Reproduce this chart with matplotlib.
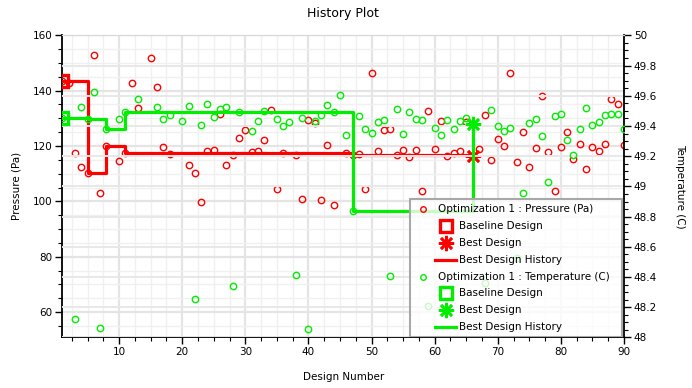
import numpy as np
import matplotlib
matplotlib.use("Agg")
from matplotlib import pyplot as plt
from matplotlib.lines import Line2D
from matplotlib.patches import Rectangle
from matplotlib.ticker import MultipleLocator, FormatStrFormatter

nan = np.nan

# design numbers 1..90
design = np.arange(1, 91)

# pressure (Pa), left axis
pressure = [
    143.5, 142.9, 117.6, 112.5, 110.2, 153.0, 103.1, 120.1, nan, 114.7,
    117.5, 142.9, 133.6, nan, 151.9, 141.4, 119.8, 117.2, nan, nan,
    113.3, 110.4, 99.9, 118.1, 118.4, 131.6, 113.2, 116.6, 123.0, 125.9,
    117.7, 118.1, 122.0, 133.1, 104.6, 117.3, nan, 116.6, 100.9, 129.5,
    128.4, 100.6, 120.5, 98.8, nan, 117.6, 116.9, 117.2, 104.6, 146.5,
    118.1, 125.9, 126.3, 116.8, 118.5, 116.2, 118.5, 103.9, 132.8, 119.0,
    129.1, 116.4, 117.4, 118.1, 128.7, 116.4, 118.8, 131.2, 115.0, 122.6,
    120.1, 146.5, 114.3, 125.1, 112.5, 119.4, 138.2, 117.9, 103.8, 119.7,
    125.1, 115.4, 120.8, 111.8, 119.7, 118.3, 120.8, 137.1, 135.3, 120.5,
]

# temperature (C), right axis
temperature = [
    49.455, nan, 48.121, 49.527, 49.443, 49.626, 48.064, 49.378, nan, 49.447,
    49.493, nan, 49.580, nan, nan, 49.527, 49.447, 49.471, nan, 49.434,
    49.533, 48.254, 49.407, 49.547, 49.458, 49.509, 49.527, 48.340, 49.493, nan,
    49.367, 49.434, 49.500, nan, 49.447, 49.399, 49.427, 48.413, 49.454, 48.055,
    49.436, 49.473, 49.540, 49.493, 49.606, 49.341, 48.836, 49.464, 49.380, 49.354,
    49.427, 49.440, 48.410, 49.513, 49.348, 49.493, 49.447, 49.440, 48.210, 49.387,
    49.341, 49.440, 49.380, 49.434, 49.454, 49.414, nan, 48.363, 49.507, 49.401,
    49.367, 49.387, 48.526, 48.956, 49.420, 49.447, 49.334, 49.029, 49.467, 49.480,
    49.308, 49.209, 49.381, 49.520, 49.407, 49.427, 49.473, 49.480, 49.480, 49.381,
]

# designs that became the new best one
best_history = [1, 5, 8, 11, 47, 66]
baseline_design = 1
best_design = 66

RED = "#ff0000"
GREEN = "#00ee00"

plt.rcParams["font.family"] = ["DejaVu Sans"]
plt.rcParams["font.size"] = 7.5

pressure = np.array(pressure)
temperature = np.array(temperature)
idx = {d: i for i, d in enumerate(design)}
hist_i = [idx[d] for d in best_history]

STAR = dict(marker=(8, 2, 0), ms=11, mew=1.9)

fig = plt.figure(figsize=(6.92, 3.88), dpi=100)
ax = fig.add_axes([0.0900, 0.1302, 0.8117, 0.7788])
ax2 = ax.twinx()

ax.set_xlim(1, 90)
ax.set_ylim(50.8, 160)
ax2.set_ylim(48, 50)

# grid
ax.set_axisbelow(True)
ax2.set_axisbelow(True)
ax.xaxis.set_major_locator(MultipleLocator(10))
ax.xaxis.set_minor_locator(MultipleLocator(2.5))
ax.yaxis.set_major_locator(MultipleLocator(20))
ax.yaxis.set_minor_locator(MultipleLocator(5))
ax2.yaxis.set_major_locator(MultipleLocator(0.2))
ax2.yaxis.set_minor_locator(MultipleLocator(0.05))
ax2.yaxis.set_major_formatter(FormatStrFormatter("%g"))
ax.grid(True, which="major", color="#e4e4e4", lw=1.6)
ax.grid(True, which="minor", color="#f0f0f0", lw=1.0)
ax2.yaxis.grid(True, which="major", color="#e8e8e8", lw=1.4)

# pressure on left axis
ax.plot(design, pressure, ls="none", marker="o", ms=4.6, mfc="none",
        mec=RED, mew=1.0, zorder=3)
ax.plot(design[hist_i], pressure[hist_i], color=RED, lw=2.3,
        drawstyle="steps-post", zorder=4)
ax.plot(design[idx[baseline_design]], pressure[idx[baseline_design]],
        marker="s", ms=9, mfc="none", mec=RED, mew=2.4, zorder=5)
ax.plot(design[idx[best_design]], pressure[idx[best_design]],
        mec=RED, zorder=5, **STAR)

# temperature on right axis
ax2.plot(design, temperature, ls="none", marker="o", ms=4.6, mfc="none",
         mec=GREEN, mew=1.0, zorder=3)
ax2.plot(design[hist_i], temperature[hist_i], color=GREEN, lw=2.3,
         drawstyle="steps-post", zorder=4)
ax2.plot(design[idx[baseline_design]], temperature[idx[baseline_design]],
         marker="s", ms=9, mfc="none", mec=GREEN, mew=2.4, zorder=5)
ax2.plot(design[idx[best_design]], temperature[idx[best_design]],
         mec=GREEN, zorder=5, **STAR)

# spines and ticks
for a in (ax, ax2):
    a.spines["top"].set_color("#d8d8d8")
    a.tick_params(which="major", length=5, width=1, color="black", pad=2)
    a.tick_params(which="minor", length=3, width=0.8, color="black")
ax.spines["right"].set_visible(False)
ax2.spines["left"].set_visible(False)
ax2.spines["bottom"].set_visible(False)
ax2.spines["right"].set_linewidth(1.3)
ax.spines["left"].set_linewidth(1.3)
ax.spines["bottom"].set_linewidth(1.3)

ax.set_title("History Plot", pad=13)
ax.set_xlabel("Design Number", labelpad=11)
ax.set_ylabel("Pressure (Pa)", labelpad=8.5)
ax2.set_ylabel("Temperature (C)", rotation=270, labelpad=20)

# legend with indented sub entries
lx0, lx1, ly0, ly1 = 0.619, 0.996, 0.003, 0.458
ax2.add_patch(Rectangle((lx0, ly0), lx1 - lx0, ly1 - ly0, transform=ax2.transAxes,
                        fc="white", alpha=0.78, ec="none", zorder=10))
ax2.add_patch(Rectangle((lx0, ly0), lx1 - lx0, ly1 - ly0, transform=ax2.transAxes,
                        fc="none", ec="#a8a8a8", lw=1.5, zorder=11))

rows = []
for color, name in ((RED, "Pressure (Pa)"), (GREEN, "Temperature (C)")):
    rows.append((color, "o", "Optimization 1 : " + name))
    rows.append((color, "s", "Baseline Design"))
    rows.append((color, "*", "Best Design"))
    rows.append((color, "-", "Best Design History"))

ytop, dy = 0.425, 0.0558
for k, (color, kind, label) in enumerate(rows):
    y = ytop - k * dy
    if kind == "o":
        ax2.add_line(Line2D([0.6416], [y], transform=ax2.transAxes, ls="none",
                            marker="o", ms=4, mfc="none", mec=color, mew=1.0,
                            zorder=12))
        tx = 0.6683
    else:
        if kind == "s":
            ax2.add_line(Line2D([0.6826], [y], transform=ax2.transAxes, ls="none",
                                marker="s", ms=9, mfc="none", mec=color, mew=2.4,
                                zorder=12))
        elif kind == "*":
            ax2.add_line(Line2D([0.6826], [y], transform=ax2.transAxes, ls="none",
                                mec=color, zorder=12, **STAR))
        else:
            ax2.add_line(Line2D([0.6627, 0.7004], [y, y], transform=ax2.transAxes,
                                color=color, lw=2.3, zorder=12))
        tx = 0.7068
    ax2.text(tx, y, label, transform=ax2.transAxes, va="center", ha="left",
             zorder=13)

fig.savefig("out.png", dpi=100)
